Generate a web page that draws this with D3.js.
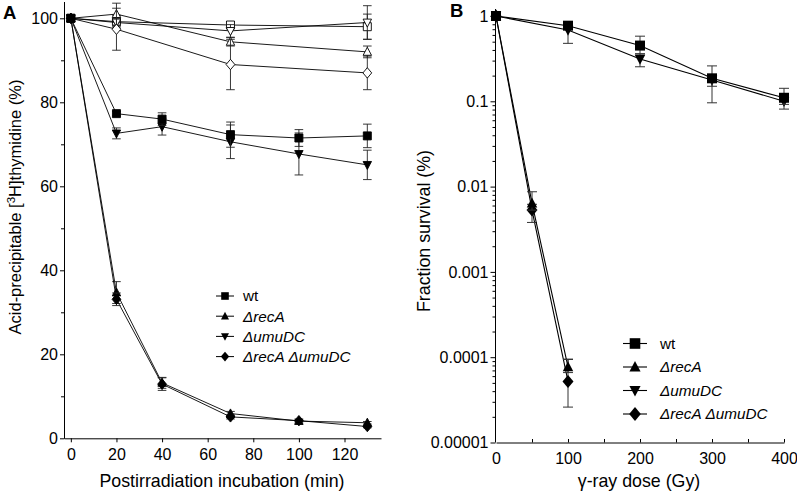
<!DOCTYPE html>
<html><head><meta charset="utf-8">
<script src="https://cdn.jsdelivr.net/npm/d3@7"></script>
<style>
body{margin:0;background:#fff;}
svg text{font-family:"Liberation Sans",Arial,sans-serif;fill:#000;}
</style></head>
<body><svg id="c" width="797" height="495"></svg>
<script>
// ---------- Panel A data: [time(min), value(%), sd] ----------
const timeTicksA = [0,20,40,60,80,100,120];
const yTicksA = [0,20,40,60,80,100];
const openSquareA  = [[0,100,0],[20,99.2,1.5],[70,98.4,0.8],[130,98.0,3.0]];
const openDownA    = [[0,100,0],[20,99.0,1.0],[70,97.0,1.5],[130,99.0,4.0]];
const openUpA      = [[0,100,0],[20,101.0,2.6],[70,94.4,1.0],[130,92.0,1.4]];
const openDiamondA = [[0,100,0],[20,97.4,5.0],[70,89.0,6.0],[130,87.0,4.0]];
const wtA       = [[0,100,0],[20,77.3,0.5],[40,76.0,1.5],[70,72.3,3.0],[100,71.5,2.0],[130,72.0,2.8]];
const umuDCA    = [[0,100,0],[20,72.6,1.3],[40,74.2,2.0],[70,70.6,4.0],[100,67.7,5.0],[130,65.1,3.5]];
const recAA     = [[0,100,0],[20,34.7,2.6],[40,13.2,1.3],[70,5.9,0.5],[100,4.1,0.5],[130,3.7,0.3]];
const recAumuA  = [[0,100,0],[20,33.1,1.5],[40,12.9,1.5],[70,5.1,0.5],[100,4.2,0.3],[130,2.8,0.3]];

// ---------- Panel B data: [dose(Gy), fraction, low, high] ----------
const doseTicksB = [0,100,200,300,400];
const yTicksB = [1,0.1,0.01,0.001,0.0001,0.00001];
const yTickLabelsB = ["1","0.1","0.01","0.001","0.0001","0.00001"];
const wtB      = [[0,1,1,1],[100,0.77,0.72,0.82],[200,0.45,0.36,0.58],[300,0.186,0.096,0.26],[400,0.110,0.092,0.142]];
const umuDCB   = [[0,1,1,1],[100,0.685,0.478,0.74],[200,0.313,0.254,0.36],[300,0.178,0.15,0.2],[400,0.100,0.081,0.11]];
const recAB    = [[0,1,1,1],[50,0.0064,0.0053,0.0087],[100,0.000077,0.000066,0.000094]];
const recAumuB = [[0,1,1,1],[50,0.0053,0.0038,0.0062],[100,0.000052,0.000026,0.000095]];

const legendLabels = ["wt","ΔrecA","ΔumuDC","ΔrecA ΔumuDC"];
const legendShapes = ["square","up","down","diamond"];

const svg = d3.select("#c");
const FONT = "Liberation Sans, Arial, sans-serif";

function shapePath(type, r){
  if(type==="square") return `M${-r},${-r}h${2*r}v${2*r}h${-2*r}Z`;
  if(type==="up") return `M0,${-r*1.15}L${r*1.05},${r*0.85}L${-r*1.05},${r*0.85}Z`;
  if(type==="down") return `M0,${r*1.15}L${r*1.05},${-r*0.85}L${-r*1.05},${-r*0.85}Z`;
  if(type==="diamond") return `M0,${-r*1.3}L${r*1.1},0L0,${r*1.3}L${-r*1.1},0Z`;
}

// ================= Panel A =================
const xA = d3.scaleLinear().domain([-3,136]).range([64,381]);
const yA = d3.scaleLinear().domain([0,104]).range([438.3,1.5]);
const gA = svg.append("g");

gA.append("g").attr("transform","translate(0,438.3)")
  .call(d3.axisBottom(xA).tickValues(timeTicksA).tickSize(4).tickSizeOuter(0).tickPadding(6))
  .call(g=>{g.select(".domain").attr("stroke","#000");
            g.selectAll("text").attr("font-size",16).attr("font-family",FONT);});
gA.append("g").attr("transform","translate(64,0)")
  .call(d3.axisLeft(yA).tickValues(yTicksA).tickSize(4).tickSizeOuter(0).tickPadding(2))
  .call(g=>{g.selectAll("text").attr("font-size",16).attr("font-family",FONT);});
gA.append("g").attr("transform","translate(64,0)")
  .call(d3.axisLeft(yA).tickValues([10,30,50,70,90]).tickSize(3).tickSizeOuter(0).tickFormat(""))
  .call(g=>g.select(".domain").remove());

function drawA(data, type, filled, r){
  const line = d3.line().x(d=>xA(d[0])).y(d=>yA(d[1]));
  gA.append("path").datum(data).attr("d",line).attr("fill","none").attr("stroke","#000").attr("stroke-width",0.9);
  const eb = gA.append("g").attr("stroke","#222").attr("stroke-width",0.9);
  data.filter(d=>d[2]>0).forEach(d=>{
    const x=xA(d[0]), y1=yA(d[1]-d[2]), y2=yA(d[1]+d[2]);
    eb.append("line").attr("x1",x).attr("x2",x).attr("y1",y1).attr("y2",y2);
    eb.append("line").attr("x1",x-4.3).attr("x2",x+4.3).attr("y1",y1).attr("y2",y1);
    eb.append("line").attr("x1",x-4.3).attr("x2",x+4.3).attr("y1",y2).attr("y2",y2);
  });
  gA.append("g").selectAll("path").data(data).join("path")
    .attr("transform",d=>`translate(${xA(d[0])},${yA(d[1])})`)
    .attr("d",shapePath(type,r))
    .attr("fill",filled?"#000":"#fff").attr("stroke","#000").attr("stroke-width",0.9);
}
drawA(openSquareA,"square",false,4);
drawA(openDownA,"down",false,4);
drawA(openUpA,"up",false,4);
drawA(openDiamondA,"diamond",false,4);
drawA(recAA,"up",true,4);
drawA(recAumuA,"diamond",true,4);
drawA(umuDCA,"down",true,4);
drawA(wtA,"square",true,4);

// legend A
const legA = gA.append("g");
legendLabels.forEach((lab,i)=>{
  const y = 296 + i*20.2;
  legA.append("line").attr("x1",216).attr("x2",234).attr("y1",y).attr("y2",y).attr("stroke","#000").attr("stroke-width",1);
  legA.append("path").attr("transform",`translate(225,${y})`).attr("d",shapePath(legendShapes[i],3.8)).attr("fill","#000");
  legA.append("text").attr("x",243).attr("y",y+5.3).attr("font-size",15.3)
    .attr("font-style",i===0?"normal":"italic").text(lab);
});

// titles A
gA.append("text").attr("x",222).attr("y",487).attr("text-anchor","middle").attr("font-size",17.8)
  .text("Postirradiation incubation (min)");
const tA = gA.append("text").attr("transform","translate(21,207) rotate(-90)").attr("text-anchor","middle").attr("font-size",16.5);
tA.append("tspan").text("Acid-precipitable [");
tA.append("tspan").attr("font-size",11.5).attr("dy",-6.5).text("3");
tA.append("tspan").attr("dy",6.5).text("H]thymidine (%)");
gA.append("text").attr("x",3).attr("y",19).attr("font-size",18.5).attr("font-weight","bold").text("A");

// ================= Panel B =================
const xB = d3.scaleLinear().domain([0,400]).range([496,784]);
const yB = d3.scaleLog().domain([0.00001,1]).range([442.5,16]);
const gB = svg.append("g");

gB.append("g").attr("transform","translate(0,442.5)")
  .call(d3.axisBottom(xB).tickValues(doseTicksB).tickSize(0).tickSizeOuter(0).tickPadding(10))
  .call(g=>{g.selectAll("text").attr("font-size",16).attr("font-family",FONT);});
gB.append("g").attr("transform","translate(0,442.5)")
  .call(d3.axisTop(xB).tickValues([50,100,150,200,250,300,350,400]).tickSize(3.5).tickSizeOuter(0).tickFormat(""))
  .call(g=>g.select(".domain").remove());
gB.append("line").attr("x1",495.5).attr("x2",495.5).attr("y1",442.5).attr("y2",9).attr("stroke","#000");
gB.append("g").attr("transform","translate(495.5,0)")
  .call(d3.axisLeft(yB).tickValues(yTicksB).tickSize(5).tickSizeOuter(0).tickPadding(2)
        .tickFormat((d,i)=>yTickLabelsB[i]))
  .call(g=>{g.select(".domain").remove();
            g.selectAll("text").attr("font-size",16).attr("font-family",FONT);});
const minorB = [];
yTicksB.slice(1).forEach(dec=>{ for(let k=2;k<=9;k++) minorB.push(dec*k); });
gB.append("g").attr("transform","translate(495.5,0)")
  .call(d3.axisLeft(yB).tickValues(minorB).tickSize(3).tickSizeOuter(0).tickFormat(""))
  .call(g=>g.select(".domain").remove());

function drawB(data, type, r){
  const line = d3.line().x(d=>xB(d[0])).y(d=>yB(d[1]));
  gB.append("path").datum(data).attr("d",line).attr("fill","none").attr("stroke","#000").attr("stroke-width",1.1);
  const eb = gB.append("g").attr("stroke","#333").attr("stroke-width",1);
  data.filter(d=>d[2]!==d[3]).forEach(d=>{
    const x=xB(d[0]), y1=yB(d[2]), y2=yB(d[3]);
    eb.append("line").attr("x1",x).attr("x2",x).attr("y1",y1).attr("y2",y2);
    eb.append("line").attr("x1",x-5).attr("x2",x+5).attr("y1",y1).attr("y2",y1);
    eb.append("line").attr("x1",x-5).attr("x2",x+5).attr("y1",y2).attr("y2",y2);
  });
  gB.append("g").selectAll("path").data(data).join("path")
    .attr("transform",d=>`translate(${xB(d[0])},${yB(d[1])})`)
    .attr("d",shapePath(type,r)).attr("fill","#000");
}
drawB(recAumuB,"diamond",5);
drawB(recAB,"up",5);
drawB(umuDCB,"down",5);
drawB(wtB,"square",5);

// legend B
const legB = gB.append("g");
legendLabels.forEach((lab,i)=>{
  const y = 343.5 + i*23.5;
  legB.append("line").attr("x1",623).attr("x2",647).attr("y1",y).attr("y2",y).attr("stroke","#000").attr("stroke-width",1.1);
  legB.append("path").attr("transform",`translate(635,${y})`).attr("d",shapePath(legendShapes[i],5.3)).attr("fill","#000");
  legB.append("text").attr("x",660).attr("y",y+5.3).attr("font-size",15.3)
    .attr("font-style",i===0?"normal":"italic").text(lab);
});

gB.append("text").attr("x",639).attr("y",487).attr("text-anchor","middle").attr("font-size",17.8)
  .text("γ-ray dose (Gy)");
gB.append("text").attr("transform","translate(430,231) rotate(-90)").attr("text-anchor","middle").attr("font-size",17.8)
  .text("Fraction survival (%)");
gB.append("text").attr("x",450).attr("y",17).attr("font-size",18.5).attr("font-weight","bold").text("B");
</script></body></html>
